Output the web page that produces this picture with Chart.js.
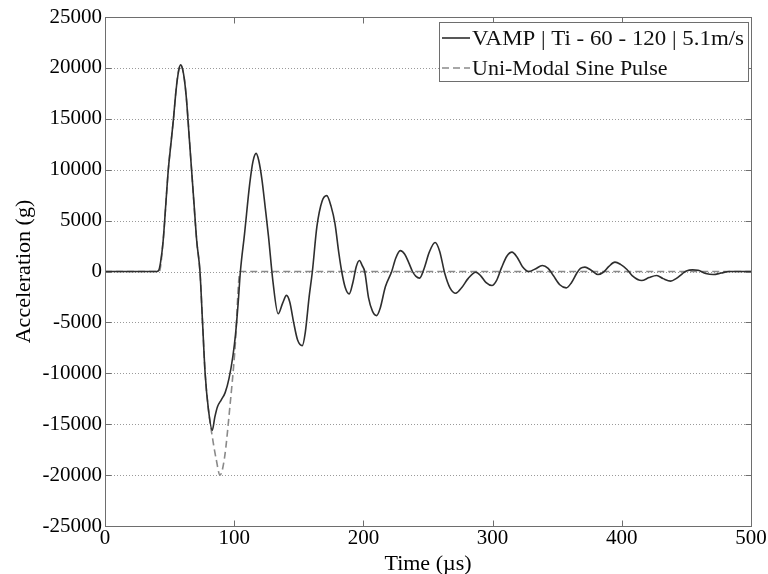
<!DOCTYPE html>
<html>
<head>
<meta charset="utf-8">
<script src="https://cdn.jsdelivr.net/npm/chart.js@4.4.1/dist/chart.umd.min.js"></script>
<style>
html,body{margin:0;padding:0;background:#ffffff;}
#wrap{width:768px;height:574px;position:relative;}
</style>
</head>
<body>
<div id="wrap"><canvas id="c"></canvas></div>
<script>
// ---- data ----
const seriesLabels = ['VAMP | Ti - 60 - 120 | 5.1m/s', 'Uni-Modal Sine Pulse'];
const xTitle = 'Time (\u00b5s)';
const yTitle = 'Acceleration (g)';
const xTickValues = [0, 100, 200, 300, 400, 500];
const yTickValues = [-25000, -20000, -15000, -10000, -5000, 0, 5000, 10000, 15000, 20000, 25000];

const vampTime = [0, 40, 41.5, 43, 45, 47, 49, 51, 53, 55, 57, 58.5, 60, 61.5, 63, 65, 67, 69, 71, 73.5,
  75.5, 77.5, 80, 83, 85, 87, 90, 93, 96, 99, 101, 103, 104.8,
  108, 112, 114.5, 117, 119, 121.5, 124, 126.5, 130, 134, 137.5, 140.5, 143, 146, 149, 152.7, 155, 158, 160.5, 164, 168, 171.6,
  175, 178, 181, 183.2, 186, 189, 192, 194.5, 197, 199, 201, 204, 207, 210.3, 213, 217, 221.9, 225, 228.5,
  232, 235, 238, 240.5, 243.5, 247, 251, 255.5, 259, 263, 267, 271.5, 276, 281, 287, 291, 295, 299.5,
  303, 307, 311, 315, 319, 323, 328, 333, 338.5, 343, 347, 352, 357, 361, 365, 368, 371.5, 376, 381.5,
  386, 390, 394.7, 399, 404, 408, 415.4, 421, 427, 432, 437.8, 442, 447, 450, 454.8, 459, 465, 470.8, 477, 483, 490, 500];
const vampAccel = [0, 0, 100, 900, 3000, 6500, 10000, 12500, 15000, 17800, 19700, 20300, 19900, 18800, 17000, 13500, 10000, 6500, 3000, 0,
  -5000, -10000, -13500, -15600, -14300, -13300, -12600, -11900, -10500, -8300, -6200, -3200, 0,
  3700, 8600, 10800, 11600, 10900, 9000, 6300, 3500, -1000, -4150, -3100, -2350, -3000, -5000, -6700, -7280, -6000, -2500, 0, 4400, 6900, 7450,
  6400, 4700, 1800, 0, -1600, -2200, -1000, 500, 1080, 600, 0, -2600, -3900, -4330, -3600, -1500, 0, 1300, 2050,
  1700, 900, 0, -450, -650, 300, 1900, 2850, 2000, -200, -1600, -2130, -1600, -700, -70, -450, -1100, -1380,
  -900, 400, 1500, 1900, 1400, 500, 0, 250, 590, 300, -400, -1300, -1610, -1100, -200, 300, 430, 150, -300,
  -50, 500, 920, 700, 200, -400, -890, -600, -390, -700, -950, -700, -200, 50, 160, 120, -200, -300, -150, 0, 0, 0];

const sineTime = [0, 42, 45, 49, 53, 56, 58.5, 61, 63, 67, 71, 73.5, 75.5, 77.5, 80, 83, 86, 89, 92.5, 96.5, 100.5, 104.5, 500];
const sineAccel = [0, 0, 3000, 10000, 15000, 19000, 20300, 19300, 17000, 10000, 3000, 0, -5000, -10000, -13500, -16200, -18400, -20000, -18300, -13500, -7800, 0, 0];

// ---- build chart ----
const toPoints = (xs, ys) => xs.map((x, i) => ({x: x, y: ys[i]}));
const SERIF = "'Liberation Serif', 'Times New Roman', serif";

const framePlugin = {
  id: 'frame',
  beforeDatasetsDraw(chart) {
    const {ctx, chartArea: a, scales: {x, y}} = chart;
    ctx.save();
    ctx.strokeStyle = '#9a9a9a';
    ctx.lineWidth = 1;
    ctx.setLineDash([1, 2]);
    yTickValues.forEach(v => {
      const py = Math.round(y.getPixelForValue(v)) + 0.5;
      ctx.beginPath(); ctx.moveTo(a.left, py); ctx.lineTo(a.right, py); ctx.stroke();
    });
    ctx.restore();
  },
  afterDatasetsDraw(chart) {
    const {ctx, chartArea: a, scales: {x, y}} = chart;
    ctx.save();
    ctx.strokeStyle = '#6e6e6e';
    ctx.lineWidth = 1;
    ctx.setLineDash([]);
    const L = Math.round(a.left) + 0.5, R = Math.round(a.right) + 0.5;
    const T = Math.round(a.top) + 0.5, B = Math.round(a.bottom) + 0.5;
    ctx.strokeRect(L, T, R - L, B - T);
    const tl = 6;
    xTickValues.forEach(v => {
      const px = Math.round(x.getPixelForValue(v)) + 0.5;
      ctx.beginPath();
      ctx.moveTo(px, B); ctx.lineTo(px, B - tl);
      ctx.moveTo(px, T); ctx.lineTo(px, T + tl);
      ctx.stroke();
    });
    yTickValues.forEach(v => {
      const py = Math.round(y.getPixelForValue(v)) + 0.5;
      ctx.beginPath();
      ctx.moveTo(L, py); ctx.lineTo(L + tl, py);
      ctx.moveTo(R, py); ctx.lineTo(R - tl, py);
      ctx.stroke();
    });
    ctx.restore();
  },
  afterDraw(chart) {
    const {ctx} = chart;
    const ds = chart.data.datasets;
    ctx.save();
    const bx = 439.5, by = 22.5, bw = 309, bh = 59;
    ctx.fillStyle = '#ffffff';
    ctx.fillRect(bx, by, bw, bh);
    ctx.strokeStyle = '#6e6e6e';
    ctx.lineWidth = 1;
    ctx.strokeRect(bx, by, bw, bh);
    ctx.fillStyle = '#111';
    ctx.textBaseline = 'alphabetic';
    ctx.textAlign = 'left';
    const rows = [{base: 45, mid: 38}, {base: 75, mid: 68}];
    ds.forEach((d, i) => {
      ctx.beginPath();
      ctx.strokeStyle = d.borderColor;
      ctx.lineWidth = d.borderWidth;
      ctx.setLineDash(d.borderDash || []);
      ctx.moveTo(442, rows[i].mid); ctx.lineTo(470, rows[i].mid);
      ctx.stroke();
      ctx.setLineDash([]);
      ctx.font = '22px ' + SERIF;
      // fit first label to the box width seen in the reference
      const target = i === 0 ? 272 : 0;
      if (target) {
        const w = ctx.measureText(d.label).width;
        ctx.save();
        ctx.translate(472, rows[i].base);
        ctx.scale(target / w, 1);
        ctx.fillText(d.label, 0, 0);
        ctx.restore();
      } else {
        ctx.fillText(d.label, 472, rows[i].base);
      }
    });
    ctx.restore();
  }
};

new Chart(document.getElementById('c'), {
  type: 'line',
  data: {
    datasets: [
      {
        label: seriesLabels[0],
        data: toPoints(vampTime, vampAccel),
        borderColor: '#2e2e2e',
        borderWidth: 1.6,
        pointRadius: 0,
        cubicInterpolationMode: 'monotone',
        fill: false,
        order: 1
      },
      {
        label: seriesLabels[1],
        data: toPoints(sineTime, sineAccel),
        borderColor: '#8a8a8a',
        borderWidth: 1.6,
        borderDash: [7, 4],
        pointRadius: 0,
        cubicInterpolationMode: 'monotone',
        fill: false,
        order: 2
      }
    ]
  },
  options: {
    responsive: true,
    maintainAspectRatio: false,
    animation: false,
    devicePixelRatio: 1,
    layout: {padding: {top: 17, right: 17, left: 0, bottom: 0}},
    plugins: {legend: {display: false}, tooltip: {enabled: false}},
    scales: {
      x: {
        type: 'linear',
        min: 0, max: 500,
        afterBuildTicks: s => { s.ticks = xTickValues.map(v => ({value: v})); },
        afterFit: s => { s.height = 48; },
        grid: {display: false, drawTicks: false},
        border: {display: false},
        ticks: {font: {family: SERIF, size: 21}, color: '#000', padding: 0, maxRotation: 0, autoSkip: false},
        title: {display: true, text: xTitle, font: {family: SERIF, size: 22}, color: '#000', padding: {top: 0, bottom: -3}}
      },
      y: {
        type: 'linear',
        min: -25000, max: 25000,
        afterBuildTicks: s => { s.ticks = yTickValues.map(v => ({value: v})); },
        afterFit: s => { s.width = 105; },
        grid: {display: false, drawTicks: false},
        border: {display: false},
        ticks: {font: {family: SERIF, size: 21}, color: '#000', padding: 3, autoSkip: false, callback: v => String(v)},
        title: {display: true, text: yTitle, font: {family: SERIF, size: 22}, color: '#000', padding: {top: 11, bottom: 0}}
      }
    }
  },
  plugins: [framePlugin]
});
</script>
</body>
</html>
